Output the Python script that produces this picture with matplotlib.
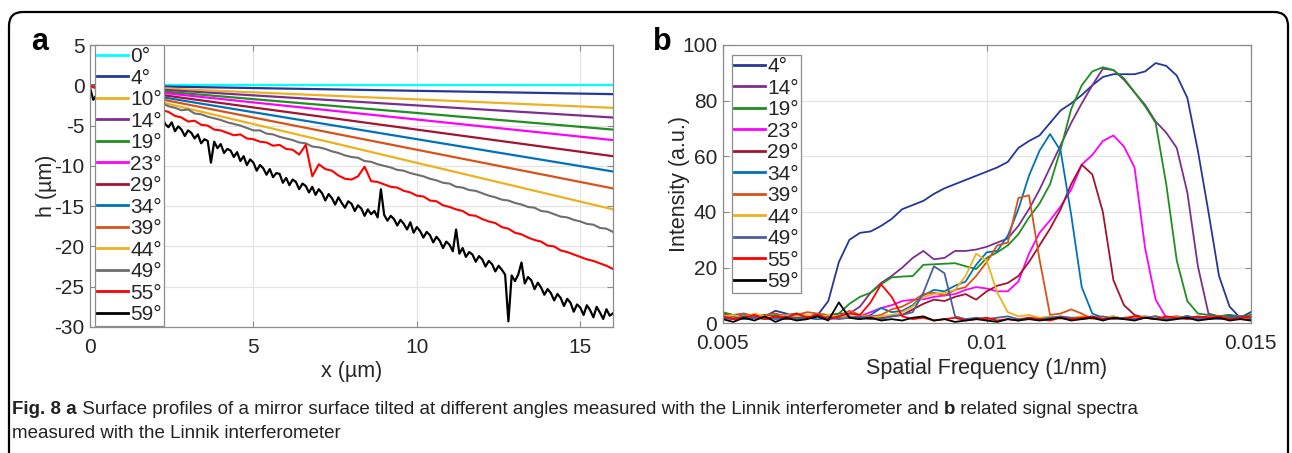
import matplotlib
matplotlib.use('Agg')
import matplotlib.pyplot as plt
import numpy as np
from matplotlib.patches import FancyBboxPatch

# ---- panel a: surface profiles (h in um vs x in um) ----
angles_a = ['0°', '4°', '10°', '14°', '19°', '23°', '29°', '34°', '39°', '44°', '49°', '55°', '59°']
colors_a = ['#00ffff', '#24389a', '#edb120', '#7e2f8e', '#1f8f1f', '#ff00ff', '#a2142f',
            '#0072bd', '#d95319', '#edb120', '#6e6e6e', '#ff0000', '#000000']

# straight profiles 0..44 deg: height at x=0 and x=16
line_x = [0, 16]
line_end = [0.0, -1.1, -2.8, -4.0, -5.5, -6.8, -8.8, -10.7, -12.8, -15.4]

# noisy profiles, 49 and 55 deg sampled every 0.2 um, 59 deg every 0.1 um
h_49 = [0.0, -0.2, -0.5, -0.7, -0.9, -1.2, -1.4, -1.6, -1.8, -2.1, -2.3, -2.2, -2.6, -2.8, -3.1, -3.0,
        -3.5, -3.6, -3.9, -4.1, -4.3, -4.6, -4.8, -5.0, -5.3, -5.6, -5.6, -6.0, -6.1, -6.4, -6.6, -6.8,
        -7.1, -7.2, -7.6, -7.7, -7.9, -8.2, -8.4, -8.7, -8.9, -9.0, -9.4, -9.5, -9.8, -10.0, -10.2,
        -10.5, -10.6, -10.9, -11.1, -11.3, -11.6, -11.8, -12.1, -12.2, -12.6, -12.7, -13.0, -13.1,
        -13.4, -13.7, -13.9, -14.2, -14.3, -14.6, -14.8, -15.1, -15.2, -15.6, -15.7, -16.0, -16.3,
        -16.4, -16.7, -16.9, -17.2, -17.3, -17.7, -17.8, -18.2]
h_55 = [-0.1, -0.4, -0.7, -1.0, -1.2, -1.5, -1.7, -2.0, -2.2, -2.5, -2.8, -3.1, -3.3, -3.8, -4.0, -4.5,
        -4.4, -4.9, -5.0, -5.5, -5.6, -5.9, -6.2, -6.1, -6.6, -6.7, -7.0, -7.1, -7.5, -7.4, -7.9, -8.0,
        -8.6, -7.4, -11.3, -9.8, -10.4, -10.6, -11.2, -11.6, -11.7, -11.3, -10.1, -11.9, -12.0, -12.3,
        -12.6, -12.7, -13.1, -13.3, -13.7, -13.8, -14.3, -14.4, -14.9, -15.1, -15.4, -15.6, -16.1,
        -16.2, -16.6, -16.9, -17.1, -17.6, -17.8, -18.3, -18.5, -18.9, -19.2, -19.4, -19.9, -20.0,
        -20.5, -20.7, -21.0, -21.3, -21.6, -21.8, -22.1, -22.4, -22.8]
h_59 = [-0.3, -1.8, -1.2, -1.6, -0.9, -1.5, -1.9, -1.4, -2.2, -2.0,
        -2.5, -2.1, -2.9, -2.6, -2.7, -3.3, -2.9, -3.6, -3.2, -3.9,
        -3.5, -4.3, -3.9, -4.8, -5.2, -4.6, -5.7, -5.1, -5.5, -6.3,
        -5.6, -5.9, -6.6, -6.1, -7.2, -6.7, -6.9, -9.6, -7.0, -7.8,
        -7.3, -8.4, -7.9, -8.1, -8.9, -8.3, -9.4, -8.8, -9.9, -9.2,
        -9.6, -10.6, -9.9, -10.3, -11.1, -10.4, -11.4, -10.9, -11.0, -12.1,
        -11.5, -12.4, -11.7, -12.0, -12.9, -12.2, -12.5, -13.3, -12.6, -13.6,
        -12.9, -13.4, -14.3, -13.5, -14.0, -14.8, -13.9, -14.6, -15.2, -14.4,
        -14.7, -15.6, -14.9, -15.3, -16.2, -15.4, -16.0, -15.6, -16.4, -12.9,
        -16.1, -16.8, -16.2, -16.6, -17.4, -16.7, -17.2, -17.9, -17.0, -18.3,
        -17.6, -18.1, -18.9, -18.2, -18.6, -19.5, -18.8, -19.3, -20.2, -19.4,
        -19.8, -20.6, -17.9, -20.9, -20.2, -21.3, -20.7, -21.0, -21.9, -21.2,
        -21.6, -22.5, -21.8, -22.2, -23.1, -22.4, -22.9, -23.5, -29.3, -23.6,
        -24.3, -23.5, -22.0, -24.6, -23.8, -24.2, -25.3, -24.5, -25.1, -26.0,
        -25.3, -25.8, -26.7, -25.9, -26.4, -27.4, -26.5, -27.0, -28.1, -27.2,
        -27.6, -28.5, -27.3, -27.9, -28.8, -27.5, -28.2, -29.0, -27.8, -28.6,
        -28.3]

# ---- panel b: signal spectra, sampled every 0.0002 1/nm from 0.005 to 0.015 ----
angles_b = ['4°', '14°', '19°', '23°', '29°', '34°', '39°', '44°', '49°', '55°', '59°']
colors_b = ['#24389a', '#7e2f8e', '#1f8f1f', '#ff00ff', '#a2142f', '#0072bd', '#d95319',
            '#edb120', '#4a5f9c', '#ff0000', '#000000']
int_4 = [3, 2.5, 2, 3, 2.5, 4.5, 3.5, 2, 2.5, 3, 8, 22, 30, 32.5, 33, 35, 37.5, 41, 42.5, 44,
         46.5, 48.5, 50, 51.5, 53, 54.5, 56, 58, 63, 65.5, 67.5, 72, 76.5, 79, 82, 85.5, 88.5,
         89.5, 89.5, 89.5, 90.5, 93.5, 92.5, 89, 81, 62, 40, 17, 6, 2, 4]
int_14 = [3.5, 3, 3.5, 2.5, 3, 2.5, 3, 3.5, 2.5, 3, 3, 3.5, 3.5, 6, 11, 14.5, 17, 20, 23.5, 26,
          23, 23.5, 26, 26, 26.5, 27.5, 29, 30.5, 35, 41, 48, 56, 64, 72, 79, 85.5, 91.5, 91,
          87.5, 83, 78.5, 72.5, 68.5, 63, 47, 20.5, 3.5, 2.5, 3, 2, 2.5]
int_19 = [4, 3, 2.5, 3, 2, 3, 2.5, 3.5, 2.5, 3, 2.5, 3.5, 7, 9.5, 11, 14, 16.5, 16.8, 17, 21,
          21.2, 21.4, 21.6, 20.5, 19.5, 23.5, 25.5, 28, 32, 38, 43, 50, 62.5, 77, 85.5, 90.5,
          92, 91, 88, 83, 78, 72, 50, 22.5, 8, 3.5, 3, 2.5, 3, 2.5, 3]
int_23 = [2, 1.5, 2, 2.5, 1.5, 2, 1.5, 2.5, 2, 1.5, 2, 2.5, 2, 2.5, 4, 5.5, 6.5, 8, 8.5, 8.6,
          9.5, 10, 10.5, 12, 13, 12.5, 11.5, 11.5, 15, 25, 32.5, 37, 42, 48, 57, 60.5, 65.5,
          67.5, 63.5, 56, 27, 8.5, 2, 2.5, 1.5, 2, 2.5, 1.5, 2, 2.5, 2]
int_29 = [2, 2.5, 1.5, 2, 2.5, 2, 1.5, 2, 2.5, 2, 1.5, 2, 2.5, 2, 1.5, 2, 2.5, 3, 5, 7,
          8.5, 8, 9.5, 10.5, 8.5, 11.5, 13.5, 14.5, 17, 22, 28, 34, 41, 50, 57, 53.5, 40, 15.5,
          6.5, 3, 2, 2.5, 1.5, 2, 2.5, 2, 1.5, 2, 2.5, 2, 1.5]
int_34 = [2, 2.5, 1.5, 2, 2.5, 1.5, 2, 2.5, 2, 1.5, 2, 2.5, 2, 1.5, 3, 5.5, 4, 4.5, 6.5, 10,
          12, 11.5, 13.5, 15, 21, 25.5, 26, 31.5, 41, 53, 62, 68, 62, 39, 13, 3.5, 2, 2.5, 1.5,
          2, 2.5, 2, 1.5, 2, 2.5, 2, 1.5, 2, 2.5, 2, 1.5]
int_39 = [3, 2.5, 3.5, 2, 3, 3.5, 2.5, 3, 4, 3.5, 3, 2.5, 4.5, 3, 2.5, 3, 5, 6, 8, 10.5,
          11, 10, 12, 13, 17, 22, 28, 29, 45, 46, 23, 3, 3.5, 5, 3.5, 1.5, 2, 1.5, 2, 2.5,
          2, 1.5, 2, 2.5, 2, 1.5, 2, 2.5, 2, 1.5, 2]
int_44 = [2.5, 3, 2, 3.5, 2.5, 2, 3, 2.5, 3, 2, 3, 2.5, 2, 3, 2, 2.5, 3, 4, 6, 9.5,
          10.5, 11, 12, 17, 25, 22.5, 11, 4, 2.5, 3, 2, 2.5, 1.5, 2, 2.5, 1.5, 2, 2.5, 1.5, 2,
          2.5, 2, 1.5, 2.5, 2, 1.5, 2, 2.5, 1.5, 2, 2.5]
int_49 = [2, 1.5, 2.5, 2, 1.5, 2, 2.5, 1.5, 2, 2.5, 2, 1.5, 2, 2.5, 2, 1.5, 2.5, 3, 4, 11,
          20.5, 18, 2.5, 1.5, 2, 1.5, 2, 2.5, 1.5, 2, 1.5, 2, 2.5, 2, 1.5, 2, 2.5, 1.5, 2, 1.5,
          2, 2.5, 1.5, 2, 2.5, 1.5, 2, 1.5, 2, 2.5, 2]
int_55 = [2.5, 1.5, 2, 3, 1.5, 2.5, 2, 3.5, 2, 3, 1.5, 2.5, 3.5, 3, 7.5, 14, 9.5, 2.5, 1.5, 2,
          1, 1.5, 2, 1, 1.5, 2, 1, 1.5, 1, 2, 1.5, 1, 2, 1.5, 2, 2.5, 1.5, 2, 1.5, 2.5,
          2, 1.5, 2.5, 2, 1.5, 2.5, 2, 2.5, 1.5, 2, 2.5]
int_59 = [1.5, 0.5, 2, 1, 2.5, 0.5, 2, 1, 1.5, 2.5, 1, 7.5, 2, 1.5, 2, 1, 1.5, 1, 2, 2.5,
          1, 1.5, 0.5, 1, 1.5, 1, 0.5, 1.5, 1, 1.5, 1, 1.5, 2, 1, 1.5, 2, 1, 2, 1.5, 1,
          2, 1.5, 1, 1.5, 2, 1, 1.5, 2, 1, 1.5, 1]

caption_1 = [('Fig. 8 a', 'bold'),
             (' Surface profiles of a mirror surface tilted at different angles measured with '
              'the Linnik interferometer and ', 'normal'),
             ('b', 'bold'),
             (' related signal spectra', 'normal')]
caption_2 = [('measured with the Linnik interferometer', 'normal')]

plt.rcParams['font.family'] = ['Liberation Sans', 'DejaVu Sans']
plt.rcParams['axes.unicode_minus'] = False

W, H = 1292, 453
fig = plt.figure(figsize=(W / 100, H / 100), dpi=100)

# background layer in pixel units: frame and caption
bg = fig.add_axes([0, 0, 1, 1], zorder=-1)
bg.set_xlim(0, W)
bg.set_ylim(H, 0)
bg.axis('off')
bg.add_patch(FancyBboxPatch((9, 12), 1279, 480, boxstyle='round,pad=0,rounding_size=14',
                            fc='white', ec='black', lw=1.6))


def style_axes(ax):
    for sp in ax.spines.values():
        sp.set_color('#8c8c8c')
        sp.set_linewidth(0.9)
    ax.tick_params(direction='in', length=4, width=0.8, color='#8c8c8c', labelcolor='#262626',
                   labelsize=15, top=True, right=True)
    ax.tick_params(axis='x', pad=8)
    ax.tick_params(axis='y', pad=4)
    ax.grid(True, color='#e4e4e4', lw=0.9)
    ax.set_axisbelow(True)


def make_legend(ax, anchor):
    leg = ax.legend(loc='upper left', bbox_to_anchor=anchor, borderaxespad=0, fontsize=15,
                    labelspacing=0.12, handlelength=1.5, handletextpad=0.1, borderpad=0.1,
                    fancybox=False, framealpha=1, edgecolor='#8c8c8c')
    leg.get_frame().set_linewidth(0.9)
    for t in leg.get_texts():
        t.set_color('#262626')
    for ln in leg.get_lines():
        ln.set_linewidth(2)
    return leg


# ---- panel a ----
ax_a = fig.add_axes([90 / W, 1 - 327 / H, 523 / W, 282 / H])
x_a_coarse = np.linspace(0, 16, len(h_49))
x_a_fine = np.linspace(0, 16, len(h_59))
for lab, col, end in zip(angles_a[:10], colors_a[:10], line_end):
    ax_a.plot(line_x, [0, end], color=col, lw=1.6, label=lab)
ax_a.plot(x_a_coarse, h_49, color=colors_a[10], lw=1.5, label=angles_a[10])
ax_a.plot(x_a_coarse, h_55, color=colors_a[11], lw=1.5, label=angles_a[11])
ax_a.plot(x_a_fine, h_59, color=colors_a[12], lw=1.6, label=angles_a[12])
ax_a.set_xlim(0, 16)
ax_a.set_ylim(-30, 5)
ax_a.set_xticks([0, 5, 10, 15])
ax_a.set_yticks(np.arange(-30, 6, 5))
style_axes(ax_a)
ax_a.set_xlabel('x (µm)', fontsize=15.5, color='#262626', labelpad=3)
ax_a.set_ylabel('h (µm)', fontsize=15.5, color='#262626', labelpad=-2)
make_legend(ax_a, (5 / 523, 1.0))

# ---- panel b ----
ax_b = fig.add_axes([722.7 / W, 1 - 323.3 / H, 528 / W, 278.3 / H])
freq = np.linspace(0.005, 0.015, len(int_4))
series_b = [int_4, int_14, int_19, int_23, int_29, int_34, int_39, int_44, int_49, int_55, int_59]
for lab, col, vals in zip(angles_b, colors_b, series_b):
    ax_b.plot(freq, vals, color=col, lw=1.3, label=lab)
ax_b.set_xlim(0.005, 0.015)
ax_b.set_ylim(0, 100)
ax_b.set_xticks([0.005, 0.01, 0.015])
ax_b.set_xticklabels(['0.005', '0.01', '0.015'])
ax_b.set_yticks(np.arange(0, 101, 20))
style_axes(ax_b)
ax_b.set_xlabel('Spatial Frequency (1/nm)', fontsize=15.5, color='#262626', labelpad=3)
ax_b.set_ylabel('Intensity (a.u.)', fontsize=15.5, color='#262626', labelpad=-6)
make_legend(ax_b, ((732 - 722.7) / 528, (323.3 - 55) / 278.3))

# panel letters
bg.text(40, 42, 'a', fontsize=22, fontweight='bold', ha='center', va='center', color='black')
bg.text(662, 42, 'b', fontsize=22, fontweight='bold', ha='center', va='center', color='black')

# caption with mixed weights
renderer = fig.canvas.get_renderer()


def draw_line(segments, x, y):
    for txt, weight in segments:
        t = bg.text(x, y, txt, fontsize=13.5, fontweight=weight, va='center', ha='left',
                    color='#222222')
        x += t.get_window_extent(renderer).width


draw_line(caption_1, 12, 410)
draw_line(caption_2, 12, 433)

fig.savefig('out.png', dpi=100)
